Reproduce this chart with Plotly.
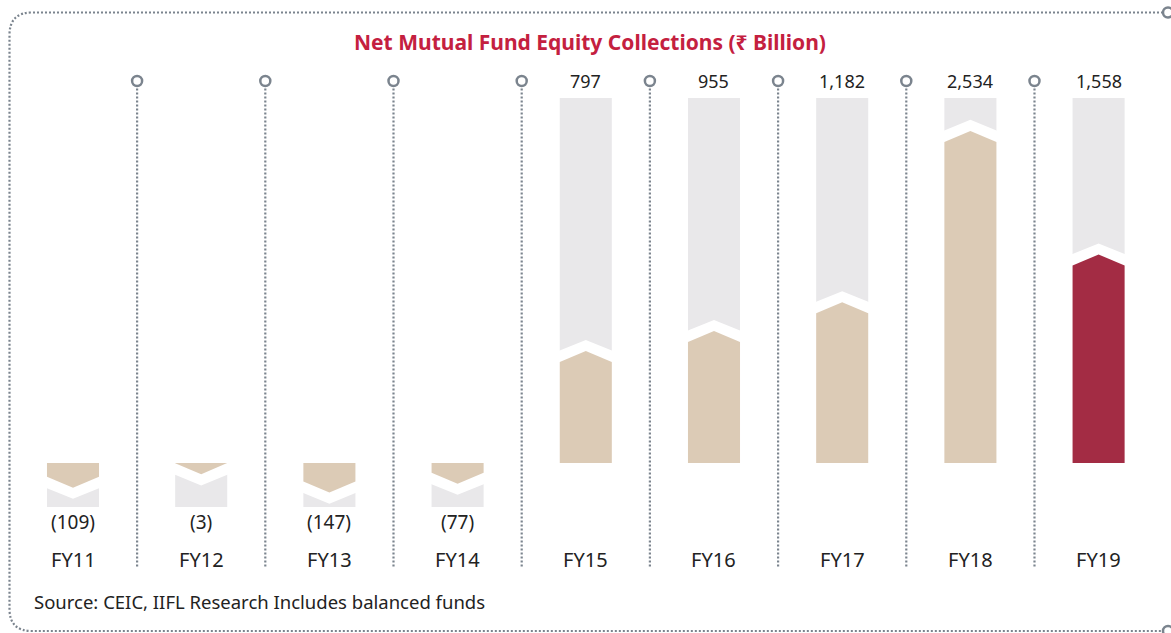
import plotly.graph_objects as go

# data
years = ["FY11", "FY12", "FY13", "FY14", "FY15", "FY16", "FY17", "FY18", "FY19"]
collections = [-109, -3, -147, -77, 797, 955, 1182, 2534, 1558]
highlight = ["FY19"]

title = "Net Mutual Fund Equity Collections (₹ Billion)"
source = "Source: CEIC, IIFL Research Includes balanced funds"

W, H = 1171, 633

TAN = "#dccbb6"
RED = "#a32c44"
TRACK = "#e9e8ea"
DOT = "#7b848e"
TITLE_RED = "#c4203f"
DOTS = "2px,2px"

# geometry (in axis units)
half = 0.203          # half bar width, category units
tip = 87              # chevron height, value units
track_top = 2880
track_bottom = -348
sep_top = 3015
sep_bottom = -825


def label(v):
    return f"({abs(v):,})" if v < 0 else f"{v:,}"


def chevron(x, v, extra, w):
    s = 1 if v >= 0 else -1
    xs = [x - w, x - w, x, x + w, x + w, x - w]
    ys = [0, v + s * extra, v + s * (tip + extra), v + s * extra, 0, 0]
    return xs, ys


fig = go.Figure()

for i, (yr, v) in enumerate(zip(years, collections)):
    end = track_top if v >= 0 else track_bottom
    fig.add_trace(go.Scatter(
        x=[i - half, i - half, i + half, i + half, i - half],
        y=[0, end, end, 0, 0],
        fill="toself", fillcolor=TRACK, mode="lines", line_width=0,
        hoverinfo="skip"
    ))
    xs, ys = chevron(i, v, tip, half + 0.01)
    fig.add_trace(go.Scatter(
        x=xs, y=ys, fill="toself", fillcolor="white", mode="lines",
        line_width=0, hoverinfo="skip"
    ))
    xs, ys = chevron(i, v, 0, half)
    fig.add_trace(go.Scatter(
        x=xs, y=ys, fill="toself",
        fillcolor=RED if yr in highlight else TAN,
        mode="lines", line_width=0,
        hovertemplate=f"{yr}: {v:,}<extra></extra>"
    ))

# separators
for i in range(len(years) - 1):
    fig.add_shape(type="line", x0=i + 0.5, x1=i + 0.5, y0=sep_top - 60,
                  y1=sep_bottom, line=dict(color=DOT, width=2.2, dash=DOTS))

fig.add_trace(go.Scatter(
    x=[i + 0.5 for i in range(len(years) - 1)],
    y=[sep_top] * (len(years) - 1),
    mode="markers",
    marker=dict(symbol="circle", size=10, color="white",
                line=dict(color=DOT, width=2.5)),
    hoverinfo="skip"
))

# value labels
for i, v in enumerate(collections):
    if v >= 0:
        fig.add_annotation(x=i, y=sep_top, text=label(v), showarrow=False,
                           font=dict(size=18, color="#222"), yanchor="middle")
    else:
        fig.add_annotation(x=i, y=-466, text=label(v), showarrow=False,
                           font=dict(size=19, color="#222"), yanchor="middle")
    fig.add_annotation(x=i, y=-765, text=years[i], showarrow=False,
                       font=dict(size=20, color="#222"), yanchor="middle")

fig.add_annotation(x=590 / W, y=1 - 42 / H, xref="paper", yref="paper",
                   text=f"<b>{title}</b>", showarrow=False,
                   font=dict(size=21, color=TITLE_RED), yanchor="middle")
fig.add_annotation(x=32 / W, y=1 - 601 / H, xref="paper", yref="paper",
                   text=source, showarrow=False, xanchor="left",
                   font=dict(size=18.5, color="#222"), yanchor="middle")

# dotted rounded frame
def px(x, y):
    return f"{x / W:.5f},{1 - y / H:.5f}"

frame = (f"M {px(1163, 12.5)} L {px(32, 12.5)} Q {px(9.5, 12.5)} {px(9.5, 35)} "
         f"L {px(9.5, 609)} Q {px(9.5, 631)} {px(32, 631)} L {px(1163, 631)}")
fig.add_shape(type="path", path=frame, xref="paper", yref="paper",
              line=dict(color=DOT, width=2.2, dash=DOTS))
for cy in (12.5, 631):
    fig.add_shape(type="circle", xref="paper", yref="paper",
                  x0=1163 / W, x1=1173 / W, y0=1 - (cy - 5) / H, y1=1 - (cy + 5) / H,
                  line=dict(color=DOT, width=2.5), fillcolor="white")

fig.update_xaxes(range=[-0.5694, 8.5648], visible=False, fixedrange=True)
fig.update_yaxes(range=[-1342, 3654], visible=False, fixedrange=True)

fig.update_layout(
    width=W, height=H,
    margin=dict(l=0, r=0, t=0, b=0),
    paper_bgcolor="white", plot_bgcolor="white",
    showlegend=False,
    font=dict(family="Noto Sans, Open Sans, sans-serif")
)

# page body has a default 8px margin; drop it so the chart sits at the corner
fig.write_html("out.html", config={"displayModeBar": False},
               post_script="document.body.style.margin='0';")
